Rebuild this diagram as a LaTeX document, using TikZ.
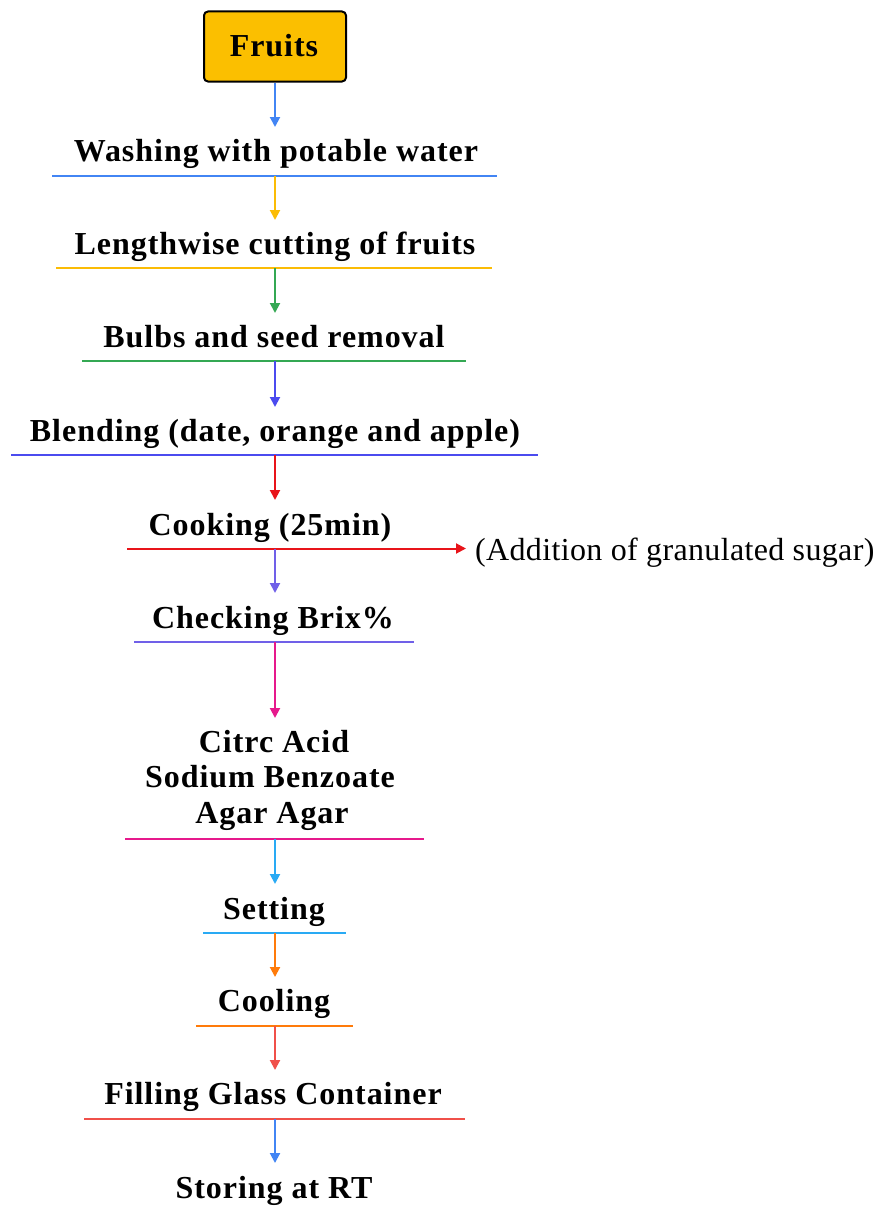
\documentclass[tikz,border=0pt]{standalone}
\usepackage{fontspec}
\setmainfont{Liberation Serif}[LetterSpace=3]
\newfontfamily\addfont{Liberation Serif}[LetterSpace=1.1]
\usetikzlibrary{arrows.meta}
\definecolor{cblue}{HTML}{4285F4}
\definecolor{cyellow}{HTML}{FBBC05}
\definecolor{cgreen}{HTML}{34A853}
\definecolor{cindigo}{HTML}{4B4BEF}
\definecolor{cred}{HTML}{E8141A}
\definecolor{cpurple}{HTML}{7060E8}
\definecolor{cmagenta}{HTML}{E6198C}
\definecolor{csky}{HTML}{29AAF4}
\definecolor{corange}{HTML}{FF7B0A}
\definecolor{ccoral}{HTML}{F0504A}
\definecolor{cbox}{HTML}{FBBF00}
\tikzset{
  steptext/.style={anchor=base, inner sep=0pt, font=\fontsize{32}{36}\selectfont\bfseries, align=center},
  uline/.style={line width=2pt},
  arr/.style={line width=2pt, -{Triangle[width=10pt,length=10pt]}},
  fruitbox/.style={draw=black, line width=2pt, fill=cbox, rounded corners=4pt, minimum width=142pt, minimum height=70pt, inner sep=0pt}
}
\begin{document}
\begin{tikzpicture}[x=1pt,y=-1pt]
\useasboundingbox (0,0) rectangle (884,1207);
% Fruits
\node[fruitbox] (fruits) at (275,46.5) {};
\node[steptext] (fruitsT) at (274,57) {Fruits};
% steps
\node[steptext] (s1) at (276,161) {Washing with potable water};
\coordinate (u1l) at (52,176); \coordinate (u1r) at (497,176); \coordinate (u1) at (275,176);
\draw[uline,cblue] (u1l) -- (u1r);
\coordinate (a1) at (275,127);
\draw[arr,cblue] (fruits.south) -- (a1);

\node[steptext] (s2) at (275,254) {Lengthwise cutting of fruits};
\coordinate (u2l) at (56,268); \coordinate (u2r) at (492,268); \coordinate (u2) at (275,268);
\draw[uline,cyellow] (u2l) -- (u2r);
\coordinate (a2) at (275,220);
\draw[arr,cyellow] (u1) -- (a2);

\node[steptext] (s3) at (274,347) {Bulbs and seed removal};
\coordinate (u3l) at (82,361); \coordinate (u3r) at (466,361); \coordinate (u3) at (275,361);
\draw[uline,cgreen] (u3l) -- (u3r);
\coordinate (a3) at (275,313);
\draw[arr,cgreen] (u2) -- (a3);

\node[steptext] (s4) at (275,441) {Blending (date, orange and apple)};
\coordinate (u4l) at (11,455); \coordinate (u4r) at (538,455); \coordinate (u4) at (275,455);
\draw[uline,cindigo] (u4l) -- (u4r);
\coordinate (a4) at (275,407);
\draw[arr,cindigo] (u3) -- (a4);

\node[steptext] (s5) at (270,535) {Cooking (25min)};
\coordinate (u5l) at (127,548.5); \coordinate (u5) at (275,548.5);
\coordinate (u5tip) at (466,548.5);
\node[anchor=base west, inner sep=0pt, font=\addfont\fontsize{32}{36}\selectfont] (add) at (475,560) {(Addition of granulated sugar)};
\draw[arr,cred] (u5l) -- (u5tip);
\coordinate (a5) at (275,500);
\draw[arr,cred] (u4) -- (a5);

\node[steptext] (s6) at (273,628) {Checking Brix\%};
\coordinate (u6l) at (134,642); \coordinate (u6r) at (414,642); \coordinate (u6) at (275,642);
\draw[uline,cpurple] (u6l) -- (u6r);
\coordinate (a6) at (275,593);
\draw[arr,cpurple] (u5) -- (a6);

\node[steptext] (s7a) at (274,752) {Citrc Acid};
\node[steptext] (s7b) at (270,787.5) {Sodium Benzoate};
\node[steptext] (s7c) at (272,823) {Agar Agar};
\coordinate (u7l) at (125,838.5); \coordinate (u7r) at (424,838.5); \coordinate (u7) at (275,838.5);
\draw[uline,cmagenta] (u7l) -- (u7r);
\coordinate (a7) at (275,718);
\draw[arr,cmagenta] (u6) -- (a7);

\node[steptext] (s8) at (274,919) {Setting};
\coordinate (u8l) at (203,932.5); \coordinate (u8r) at (346,932.5); \coordinate (u8) at (275,932.5);
\draw[uline,csky] (u8l) -- (u8r);
\coordinate (a8) at (275,884);
\draw[arr,csky] (u7) -- (a8);

\node[steptext] (s9) at (274,1011.5) {Cooling};
\coordinate (u9l) at (196,1025.5); \coordinate (u9r) at (353,1025.5); \coordinate (u9) at (275,1025.5);
\draw[uline,corange] (u9l) -- (u9r);
\coordinate (a9) at (275,977);
\draw[arr,corange] (u8) -- (a9);

\node[steptext] (s10) at (273,1104.5) {Filling Glass Container};
\coordinate (u10l) at (84,1119); \coordinate (u10r) at (465,1119); \coordinate (u10) at (275,1119);
\draw[uline,ccoral] (u10l) -- (u10r);
\coordinate (a10) at (275,1070);
\draw[arr,ccoral] (u9) -- (a10);

\node[steptext] (s11) at (274,1198) {Storing at RT};
\coordinate (a11) at (275,1163);
\draw[arr,cblue] (u10) -- (a11);
\end{tikzpicture}
\end{document}
